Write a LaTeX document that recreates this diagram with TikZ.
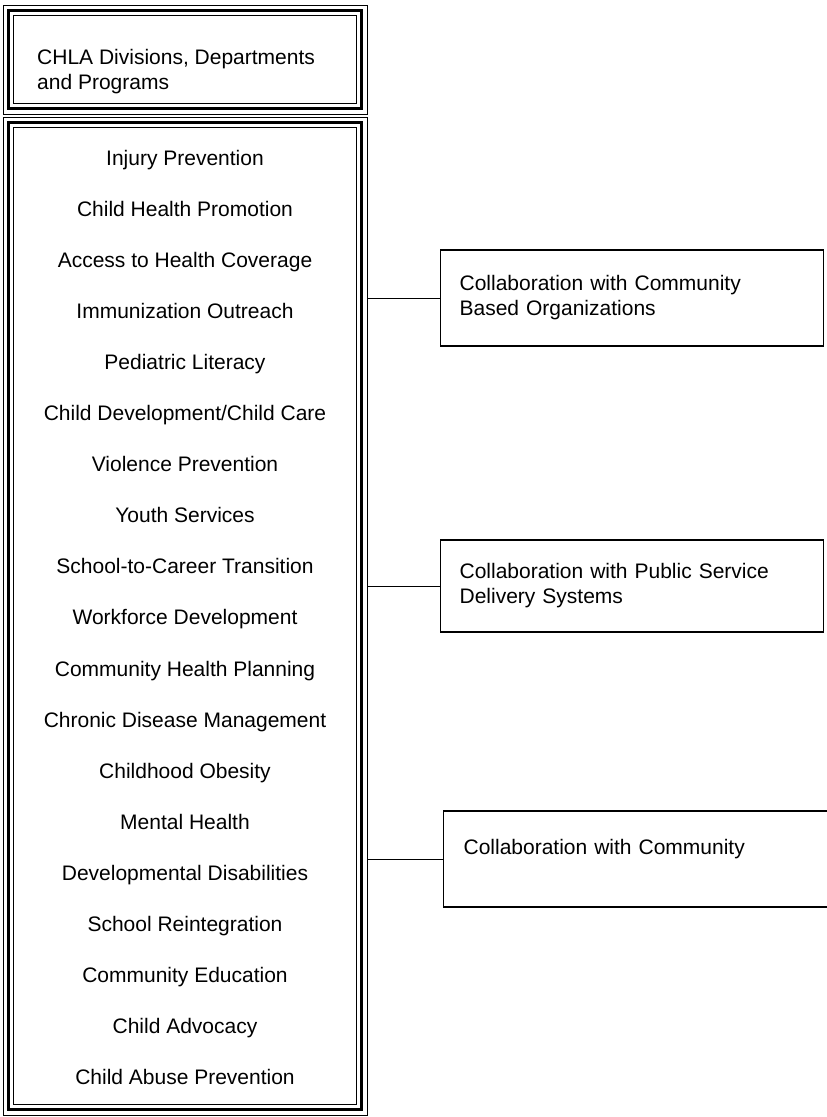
\documentclass[tikz,border=0pt]{standalone}
\usepackage{fontspec}
\setmainfont{Liberation Sans}
\usetikzlibrary{positioning}

% inner rings of the triple frame
\newcommand{\triframe}[1]{%
  \draw[line width = 3.5pt] ([shift={(5.5,5.5)}]#1.north west) rectangle ([shift={(-5.5,-5.5)}]#1.south east);
  \draw[line width = 1.2pt] ([shift={(10.5,10.5)}]#1.north west) rectangle ([shift={(-10.5,-10.5)}]#1.south east);
}

\begin{document}
\begin{tikzpicture}[
    x = 1pt, y = -1pt,
    font = \fontsize{21}{25}\selectfont,
    outerframe/.style = {
        draw,
        rectangle,
        line width = 1pt,
        minimum width = 364pt,
        inner sep = 0pt,
        outer sep = 0pt,
        anchor = north west
    },
    item/.style = {anchor = base},
    collab/.style = {
        draw,
        rectangle,
        line width = 1.2pt,
        minimum height = 96pt,
        text width = 345pt,
        inner xsep = 19pt,
        align = left,
        anchor = west
    }
]

\useasboundingbox (0,0) rectangle (827,1117);

% Header
\node[outerframe, minimum height = 109pt] (header) at (3,5) {};
\triframe{header}
\node[anchor = base west, align = left, inner sep = 0pt] (title) at (37,89) {CHLA Divisions, Departments\\and Programs};

% Program list
\node[outerframe, minimum height = 998pt] (list) at (3,117) {};
\triframe{list}

\foreach \name [count = \i] in {Injury Prevention, Child Health Promotion, Access to Health Coverage,
    Immunization Outreach, Pediatric Literacy, Child Development/Child Care, Violence Prevention,
    Youth Services, School-to-Career Transition, Workforce Development, Community Health Planning,
    Chronic Disease Management, Childhood Obesity, Mental Health, Developmental Disabilities,
    School Reintegration, Community Education, Child Advocacy, Child Abuse Prevention} {
    \node[item] (item\i) at (185, 165 + 51.1*\i - 51.1) {\name};
}

% Collaborations
\node[collab] (cbo) at (440,298) {Collaboration with Community\\Based Organizations};
\node[collab, minimum height = 92pt] (public) at (440,586) {Collaboration with Public Service\\Delivery Systems};
\node[collab, text width = 380pt, inner xsep = 20pt] (community) at (443,859) {Collaboration with Community\\\mbox{}};

% Links
\draw[line width = 1pt] (list.east |- cbo.west) -- (cbo.west);
\draw[line width = 1pt] (list.east |- public.west) -- (public.west);
\draw[line width = 1pt] (list.east |- community.west) -- (community.west);

\end{tikzpicture}
\end{document}
